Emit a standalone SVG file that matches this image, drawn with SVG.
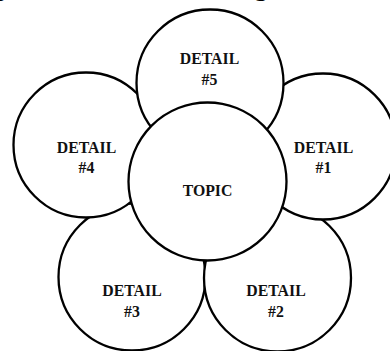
<svg xmlns="http://www.w3.org/2000/svg" width="390" height="351" viewBox="0 0 390 351">
<style>
.c{fill:#fff;stroke:#000;stroke-width:2.3}
.t{font-family:"Liberation Serif","Times New Roman",serif;font-weight:bold;font-size:15.8px;fill:#111;text-anchor:middle}
.f{font-family:"Liberation Serif","Times New Roman",serif;font-style:italic;font-size:30px;fill:#000}
</style>
<rect width="390" height="351" fill="#fff"/>
<text class="f" x="17" y="-5" text-anchor="end">g,</text>
<text class="f" x="256" y="-5">g</text>
<g id="connectors"></g>
<g id="detail3"><circle class="c" cx="132" cy="277" r="73.5"/><text class="t" x="132" y="296">DETAIL</text><text class="t" x="132" y="316.5">#3</text></g>
<g id="detail2"><circle class="c" cx="277.5" cy="278" r="73.5"/><text class="t" x="276" y="296">DETAIL</text><text class="t" x="276" y="316.5">#2</text></g>
<g id="detail4"><circle class="c" cx="86" cy="145" r="72.5"/><text class="t" x="86.5" y="153">DETAIL</text><text class="t" x="86.5" y="173">#4</text></g>
<g id="detail1"><circle class="c" cx="323" cy="146.5" r="73"/><text class="t" x="323.5" y="152.5">DETAIL</text><text class="t" x="323.5" y="173">#1</text></g>
<g id="detail5"><circle class="c" cx="210" cy="83" r="73.5"/><text class="t" x="209.5" y="64">DETAIL</text><text class="t" x="209.5" y="85">#5</text></g>
<g id="topic"><circle class="c" cx="207.5" cy="181.5" r="79"/><text class="t" x="207.5" y="195.5">TOPIC</text></g>
</svg>
